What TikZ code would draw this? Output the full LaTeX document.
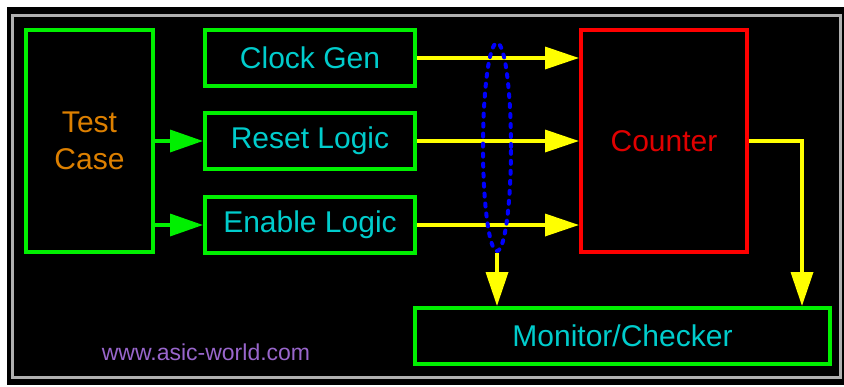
\documentclass[tikz,border=0pt]{standalone}
\usepackage{fontspec}
\setmainfont{Liberation Sans}
\usetikzlibrary{arrows.meta,shapes.geometric}
\definecolor{bgreen}{HTML}{00F000}
\definecolor{tcyan}{HTML}{00CCCC}
\definecolor{torange}{HTML}{DD8000}
\definecolor{bred}{HTML}{FF0000}
\definecolor{tred}{HTML}{E00000}
\definecolor{byellow}{HTML}{FFFF00}
\definecolor{bblue}{HTML}{0000FF}
\definecolor{tpurple}{HTML}{9966CC}
\definecolor{frame}{HTML}{B0B0B0}
\tikzset{
  blk/.style={draw=bgreen, line width=4pt, text=tcyan, minimum width=210pt, minimum height=56pt, inner sep=0pt, font=\fontsize{30}{37}\selectfont},
  garrow/.style={draw=bgreen, line width=3.5pt, -{Triangle[length=33pt,width=22pt,fill=bgreen]}},
  yarrow/.style={draw=byellow, line width=3.5pt, -{Triangle[length=34pt,width=22pt,fill=byellow]}},
}
\begin{document}
\begin{tikzpicture}[x=1pt,y=-1pt]
\useasboundingbox (0,0) rectangle (844,386);
\fill[white] (0,0) rectangle (844,386);
\fill[black] (7,7) rectangle (844,385);
\draw[frame, line width=3pt] (12,15) rectangle (840,377);

\node[blk, text=torange, minimum width=127pt, minimum height=222pt, align=center] (tc) at (89.5,141) {Test\\Case};
\node[blk] (cg) at (310,58) {Clock Gen};
\node[blk] (rl) at (310,141) {Reset Logic};
\node[blk] (el) at (310,225) {Enable Logic};
\node[blk, draw=bred, text=tred, minimum width=166pt, minimum height=222pt] (cnt) at (664,141) {Counter};
\node[blk, minimum width=415pt] (mon) at (622.5,336) {Monitor/Checker};
\node[font=\fontsize{23}{26}\selectfont, text=tpurple] (url) at (206,352) {www.asic-world.com};

\draw[garrow] (tc.east |- rl.west) -- (rl.west);
\draw[garrow] (tc.east |- el.west) -- (el.west);

\draw[yarrow] (cg.east) -- (cg.east -| cnt.west);
\draw[yarrow] (rl.east) -- (rl.east -| cnt.west);
\draw[yarrow] (el.east) -- (el.east -| cnt.west);

\node[ellipse, draw=bblue, line width=4pt, dash pattern=on 3pt off 7pt, line cap=round, minimum width=28pt, minimum height=208pt, inner sep=0pt] (bus) at (497,147) {};
\draw[yarrow] (bus.south) -- (bus.south |- mon.north);

\coordinate (cr) at (802,141);
\draw[yarrow] (cnt.east) -- (cr) -- (cr |- mon.north);
\end{tikzpicture}
\end{document}
